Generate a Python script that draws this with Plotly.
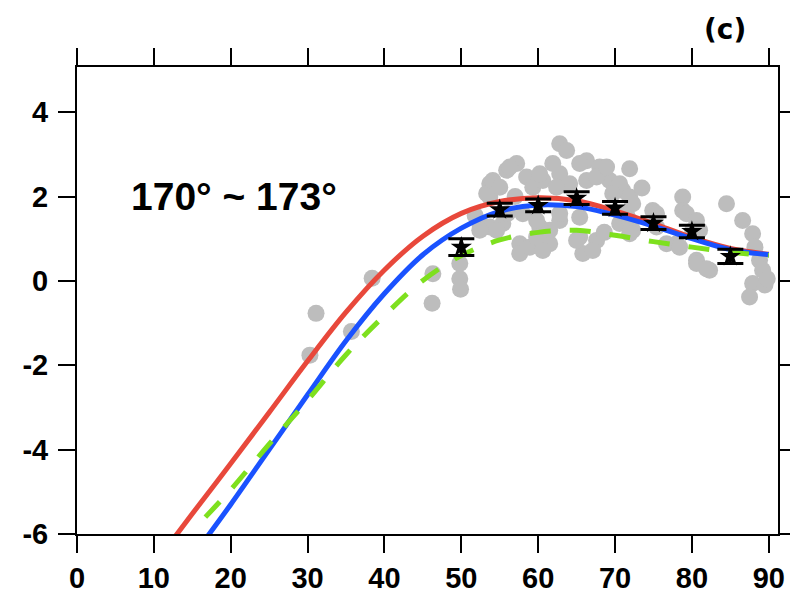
import plotly.graph_objects as go

# --- model curves (latitude in degrees vs. anomaly) ---
red_x = [12.6, 15, 20, 25, 30, 35, 40, 45, 50, 55, 60, 65, 70, 75, 80, 85, 90]
red_y = [-6.1, -5.52, -4.33, -3.12, -1.9, -0.74, 0.26, 1.06, 1.6, 1.88, 1.97, 1.9, 1.66, 1.36, 1.03, 0.77, 0.63]

blue_x = [16.8, 20, 25, 30, 35, 40, 45, 50, 55, 60, 65, 70, 75, 80, 85, 90]
blue_y = [-6.1, -5.3, -4.0, -2.7, -1.42, -0.3, 0.62, 1.25, 1.65, 1.8, 1.76, 1.56, 1.3, 1.0, 0.74, 0.62]

green_x = [16.7, 20, 25, 30, 35, 40, 45, 50, 55, 60, 65, 70, 75, 80, 85, 90]
green_y = [-5.6, -4.95, -3.87, -2.83, -1.75, -0.82, 0.01, 0.6, 0.97, 1.15, 1.2, 1.08, 0.93, 0.8, 0.68, 0.6]

# --- binned means with error bars ---
bin_x = [50, 55, 60, 65, 70, 75, 80, 85]
bin_y = [0.8, 1.69, 1.79, 1.96, 1.73, 1.37, 1.17, 0.58]
bin_err = [0.2, 0.15, 0.15, 0.15, 0.15, 0.15, 0.15, 0.17]

# --- individual samples ---
obs_x = [30.3, 31.1, 35.7, 38.4, 46.2, 46.3, 49.8, 49.8, 49.9,
         52.4, 53.7, 55.4, 52.4, 54.6, 51.8,
         53.7, 53.7, 53.3, 54.1, 55.0, 55.9, 57.2, 56.3, 58.5, 59.3, 60.6, 60.2,
         61.9, 62.8, 63.7, 62.8, 64.1, 62.4,
         66.3, 68.0, 69.3, 66.3, 65.4, 67.6, 68.9,
         71.9, 71.0, 71.9, 70.6, 69.7,
         57.6, 57.6, 58.9, 59.8, 61.5, 60.6, 61.5, 60.2, 58.0, 56.0, 57.0,
         59.8, 62.8, 62.8, 65.4, 65.4, 65.8, 67.6, 67.1, 65.0, 68.6,
         70.6, 71.5, 72.3, 71.9, 72.3, 71.9,
         74.9, 75.4, 75.4, 73.5, 76.7, 78.0, 78.4,
         78.8, 78.8, 79.3, 80.6, 80.1, 81.0,
         80.6, 80.6, 82.3, 81.9,
         84.5, 86.6, 87.9, 88.8, 89.2, 87.9, 87.5, 89.5, 89.8, 88.2]
obs_y = [-1.76, -0.77, -1.2, 0.06, -0.53, 0.17, 0.41, 0.05, -0.2,
         1.36, 1.28, 1.36, 1.2, 1.2, 1.55,
         2.3, 1.99, 2.07, 2.38, 2.22, 2.62, 2.78, 2.7, 2.46, 2.22, 2.38, 2.54,
         2.78, 3.25, 3.09, 2.54, 2.3, 2.22,
         2.85, 2.7, 2.38, 2.38, 2.78, 2.46, 2.7,
         2.66, 2.14, 1.99, 2.3, 2.07,
         0.88, 0.65, 0.8, 1.04, 0.88, 0.72, 1.2, 1.28, 1.59, 1.6, 2.0,
         1.43, 1.43, 1.6, 1.51, 1.04, 0.65, 0.96, 0.72, 0.96, 1.15,
         1.36, 1.59, 1.2, 1.43, 1.83, 1.12,
         1.67, 1.59, 1.28, 2.2, 0.88, 0.88, 0.8,
         1.99, 1.67, 1.59, 1.43, 1.2, 1.2,
         0.49, 0.41, 0.25, 0.29,
         1.83, 1.43, 1.12, 0.49, 0.25, -0.06, -0.38, -0.1, 0.05, 0.8]

x_ticks = [0, 10, 20, 30, 40, 50, 60, 70, 80, 90]
y_ticks = [-6, -4, -2, 0, 2, 4]

FONT = "Liberation Sans, Arial, Helvetica, sans-serif"

fig = go.Figure()

fig.add_trace(go.Scatter(
    x=obs_x, y=obs_y, mode="markers",
    marker=dict(color="#bdbdbd", size=17, line=dict(width=0)),
    showlegend=False))

fig.add_trace(go.Scatter(
    x=red_x, y=red_y, mode="lines", line=dict(color="#e8483b", width=5, shape="spline"),
    showlegend=False))
fig.add_trace(go.Scatter(
    x=blue_x, y=blue_y, mode="lines", line=dict(color="#1a52ff", width=5, shape="spline"),
    showlegend=False))
fig.add_trace(go.Scatter(
    x=green_x, y=green_y, mode="lines",
    line=dict(color="#7ee01e", width=5, shape="spline", dash="21px,19px"),
    showlegend=False))

fig.add_trace(go.Scatter(
    x=bin_x, y=bin_y, mode="markers",
    marker=dict(color="black", size=16, symbol="star"),
    error_y=dict(type="data", array=bin_err, color="black", thickness=3, width=13),
    showlegend=False))

axis_common = dict(
    showline=True, linewidth=2, linecolor="black", mirror="ticks",
    ticks="outside", ticklen=17, tickwidth=2, tickcolor="black",
    showgrid=False, zeroline=False, automargin=False,
    tickfont=dict(family=FONT, size=29, color="black", weight="bold"),
)

fig.update_xaxes(range=[0, 91.2], tickvals=x_ticks, ticktext=[str(v) for v in x_ticks],
                 **axis_common)
fig.update_yaxes(range=[-6, 5.07], tickvals=y_ticks, ticktext=[str(v) for v in y_ticks],
                 ticklabelstandoff=4, **axis_common)

fig.add_annotation(x=6.8, y=2.0, xref="x", yref="y", text="170° ~ 173°",
                   showarrow=False, xanchor="left", yanchor="middle",
                   font=dict(family=FONT, size=39, color="black", weight="bold"))
fig.add_annotation(x=0.925, y=1.081, xref="paper", yref="paper", text="(c)",
                   showarrow=False, xanchor="center", yanchor="middle",
                   font=dict(family="DejaVu Sans, sans-serif", size=28, color="black", weight="bold"))

fig.update_layout(
    width=790, height=598,
    margin=dict(l=77, r=12, t=67, b=64),
    paper_bgcolor="white", plot_bgcolor="white",
)

fig.write_html("out.html")
